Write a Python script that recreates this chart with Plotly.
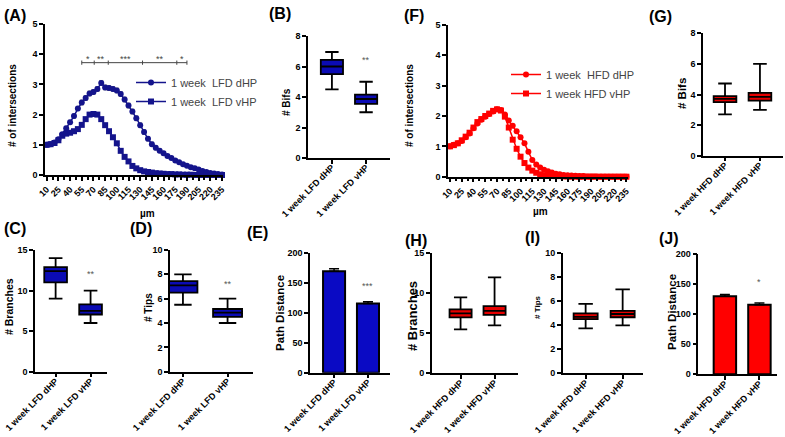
import plotly.graph_objects as go

W, H = 785, 437
FONT = "Liberation Sans, Arial, sans-serif"
NAVY = "#14148c"
BLUE = "#0b0bb4"
RED = "#ff0000"
BOXRED = "#e60000"

# ---- Sholl profiles (A, F) ----
radius_um = list(range(10, 240, 5))
lfd_dhp = [1.0, 1.02, 1.08, 1.18, 1.35, 1.55, 1.75, 1.95, 2.2, 2.4,
           2.55, 2.7, 2.75, 2.85, 3.05, 2.9, 2.88, 2.85, 2.8, 2.68,
           2.5, 2.3, 2.1, 1.88, 1.65, 1.42, 1.2, 1.02, 0.9, 0.8,
           0.72, 0.63, 0.56, 0.48, 0.42, 0.36, 0.31, 0.26, 0.22, 0.18,
           0.13, 0.1, 0.07, 0.05, 0.03, 0.02]
lfd_dhp_sem = [0.02, 0.02, 0.03, 0.04, 0.05, 0.06, 0.06, 0.07, 0.07, 0.08,
               0.08, 0.08, 0.08, 0.08, 0.08, 0.08, 0.08, 0.08, 0.08, 0.08,
               0.08, 0.08, 0.08, 0.08, 0.08, 0.08, 0.07, 0.07, 0.07, 0.06,
               0.06, 0.05, 0.05, 0.05, 0.04, 0.04, 0.03, 0.03, 0.03, 0.02,
               0.02, 0.02, 0.01, 0.01, 0.01, 0.01]
lfd_vhp = [1.0, 1.02, 1.06, 1.15, 1.3, 1.37, 1.4, 1.45, 1.52, 1.66,
           1.85, 2.0, 2.02, 2.0, 1.85, 1.65, 1.45, 1.25, 1.05, 0.8,
           0.6, 0.45, 0.3, 0.22, 0.16, 0.12, 0.1, 0.08, 0.06, 0.05,
           0.04, 0.03, 0.03, 0.02, 0.02, 0.01, 0.01, 0.01, 0.0, 0.0,
           0.0, 0.0, 0.0, 0.0, 0.0, 0.0]
hfd_dhp = [1.0, 1.05, 1.1, 1.18, 1.3, 1.42, 1.6, 1.75, 1.88, 1.98,
           2.07, 2.15, 2.22, 2.2, 2.05, 1.85, 1.68, 1.5, 1.3, 1.1,
           0.82, 0.55, 0.4, 0.3, 0.23, 0.18, 0.14, 0.1, 0.08, 0.06,
           0.05, 0.04, 0.03, 0.02, 0.02, 0.01, 0.01, 0.01, 0.0, 0.0,
           0.0, 0.0, 0.0, 0.0, 0.0, 0.0]
hfd_vhp = [1.0, 1.04, 1.1, 1.2, 1.32, 1.45, 1.62, 1.8, 1.9, 2.0,
           2.08, 2.17, 2.22, 2.18, 1.98, 1.62, 1.22, 0.92, 0.66, 0.45,
           0.3, 0.2, 0.13, 0.08, 0.05, 0.04, 0.03, 0.02, 0.02, 0.01,
           0.01, 0.0, 0.0, 0.0, 0.0, 0.0, 0.0, 0.0, 0.0, 0.0,
           0.0, 0.0, 0.0, 0.0, 0.0, 0.0]

# significance brackets in (A)
sig_edges = [55, 71, 89, 133, 177, 190]
sig_labels = ["*", "**", "***", "**", "*"]
sig_y = 3.72

# ---- box plots per group ----
lfd_groups = ["1 week LFD dHP", "1 week LFD vHP"]
hfd_groups = ["1 week HFD dHP", "1 week HFD vHP"]

bifs_lfd = {"lo": [4.5, 3.0], "q1": [5.5, 3.55], "med": [6.0, 3.87], "q3": [6.43, 4.15], "hi": [6.95, 5.0]}
branches_lfd = {"lo": [9.0, 6.0], "q1": [11.0, 7.05], "med": [12.4, 7.5], "q3": [12.9, 8.3], "hi": [14.0, 10.0]}
tips_lfd = {"lo": [5.5, 4.0], "q1": [6.5, 4.5], "med": [7.1, 4.85], "q3": [7.45, 5.15], "hi": [8.0, 6.0]}
bifs_hfd = {"lo": [2.7, 3.0], "q1": [3.5, 3.6], "med": [3.72, 3.85], "q3": [3.9, 4.1], "hi": [4.72, 6.0]}
branches_hfd = {"lo": [5.5, 6.0], "q1": [7.0, 7.3], "med": [7.5, 7.8], "q3": [8.0, 8.4], "hi": [9.5, 12.0]}
tips_hfd = {"lo": [3.75, 4.0], "q1": [4.52, 4.67], "med": [4.7, 4.94], "q3": [5.0, 5.2], "hi": [5.78, 7.0]}

# ---- path distance bars (mean, sem) ----
path_lfd = [170, 116]
path_lfd_sem = [4, 3]
path_hfd = [130, 116]
path_hfd_sem = [3, 3]

# asterisks over vHP: (axis suffix, text, y)
stars = [("2", "**", 6.4), ("5", "**", 12.0), ("6", "**", 7.2), ("7", "***", 145), ("10", "*", 154)]


def px(x):
    return x / W


def py(y):
    return 1 - y / H


fig = go.Figure()

# (A)
fig.add_trace(go.Scatter(x=radius_um, y=lfd_dhp, mode="lines+markers", name="1 week\u00a0 LFD dHP",
                         marker=dict(symbol="circle", size=6, color=NAVY), line=dict(color=NAVY, width=1.5),
                         error_y=dict(type="data", array=lfd_dhp_sem, color="#888888", thickness=1, width=2),
                         cliponaxis=False, legend="legend", xaxis="x", yaxis="y"))
fig.add_trace(go.Scatter(x=radius_um, y=lfd_vhp, mode="lines+markers", name="1 week\u00a0 LFD vHP",
                         marker=dict(symbol="square", size=6, color=NAVY), line=dict(color=NAVY, width=1.5),
                         cliponaxis=False, legend="legend", xaxis="x", yaxis="y"))
# (F)
fig.add_trace(go.Scatter(x=radius_um, y=hfd_dhp, mode="lines+markers", name="1 week\u00a0 HFD dHP",
                         marker=dict(symbol="circle", size=6, color=RED), line=dict(color=RED, width=1.5),
                         cliponaxis=False, legend="legend2", xaxis="x3", yaxis="y3"))
fig.add_trace(go.Scatter(x=radius_um, y=hfd_vhp, mode="lines+markers", name="1 week HFD vHP",
                         marker=dict(symbol="square", size=6, color=RED), line=dict(color=RED, width=1.5),
                         cliponaxis=False, legend="legend2", xaxis="x3", yaxis="y3"))


def add_box(groups, d, ax, fill):
    fig.add_trace(go.Box(x=groups, lowerfence=d["lo"], q1=d["q1"], median=d["med"], q3=d["q3"],
                         upperfence=d["hi"], fillcolor=fill, line=dict(color="#000000", width=1.8),
                         width=0.65, whiskerwidth=0.6, showlegend=False, hoverinfo="skip",
                         xaxis="x" + ax, yaxis="y" + ax))


def add_bar(groups, vals, sem, ax, fill):
    fig.add_trace(go.Bar(x=groups, y=vals, width=0.65, marker=dict(color=fill, line=dict(color="#000000", width=2)),
                         error_y=dict(type="data", array=sem, arrayminus=[0] * len(sem), symmetric=False,
                                      color="#000000", thickness=1.5, width=5),
                         showlegend=False, xaxis="x" + ax, yaxis="y" + ax))


add_box(lfd_groups, bifs_lfd, "2", BLUE)
add_box(hfd_groups, bifs_hfd, "4", BOXRED)
add_box(lfd_groups, branches_lfd, "5", BLUE)
add_box(lfd_groups, tips_lfd, "6", BLUE)
add_bar(lfd_groups, path_lfd, path_lfd_sem, "7", "#0a0ac4")
add_box(hfd_groups, branches_hfd, "8", BOXRED)
add_box(hfd_groups, tips_hfd, "9", BOXRED)
add_bar(hfd_groups, path_hfd, path_hfd_sem, "10", RED)

axis_style = dict(showline=True, linecolor="#000000", linewidth=1.5, ticks="outside", ticklen=4,
                  tickwidth=1.5, tickcolor="#000000", showgrid=False, zeroline=False, automargin=False,
                  tickfont=dict(family=FONT, size=9, color="#000000", weight="bold"))

# panel geometry (pixels): suffix -> (x span, y span, y range, y dtick, x range)
panels = {
    "": ((45, 223), (24, 175), [0, 5], 1, [7.8, 236.3]),
    "2": ((308, 390), (36, 158), [0, 8], 2, [-0.7, 1.7]),
    "3": ((448, 628), (25, 176.7), [0, 5], 1, [7.5, 237]),
    "4": ((703, 783), (33.3, 155.7), [0, 8], 2, [-0.63, 1.66]),
    "5": ((35, 107), (250, 371.7), [0, 15], 5, [-0.59, 1.47]),
    "6": ((170, 253), (250, 371.7), [0, 10], 2, [-0.29, 1.57]),
    "7": ((310, 390), (253.3, 372.7), [0, 200], 50, [-0.71, 1.65]),
    "8": ((431.7, 518), (253.3, 373.3), [0, 15], 5, [-0.85, 1.69]),
    "9": ((562.7, 643), (253.3, 373.3), [0, 10], 2, [-0.62, 1.55]),
    "10": ((698.3, 776.7), (254.3, 374.3), [0, 200], 50, [-0.77, 1.5]),
}

layout_axes = {}
for s, (xp, yp, yr, ydt, xr) in panels.items():
    xa = dict(axis_style, domain=[px(xp[0]), px(xp[1])], range=xr, anchor="y" + s, tickangle=-45)
    if s in ("", "3"):
        xa.update(tick0=10, dtick=15, tickmode="linear",
                  minor=dict(ticks="outside", ticklen=3, tickcolor="#000000", tick0=10, dtick=7.5))
    else:
        xa.update(type="category", ticklabelstandoff=-5)
    ya = dict(axis_style, domain=[py(yp[1]), py(yp[0])], range=yr, dtick=ydt, anchor="x" + s)
    layout_axes["xaxis" + s] = xa
    layout_axes["yaxis" + s] = ya

fig.update_layout(**layout_axes)

ann = []
# panel letters
for txt, x, y in [("(A)", 2, 16), ("(B)", 267, 13), ("(F)", 402, 15), ("(G)", 647, 17),
                  ("(C)", 2, 228), ("(D)", 128, 228), ("(E)", 245, 233), ("(H)", 403, 240),
                  ("(I)", 523, 237), ("(J)", 657, 238)]:
    ann.append(dict(text=txt, x=px(x), y=py(y), xref="paper", yref="paper", xanchor="left",
                    yanchor="middle", showarrow=False, font=dict(family=FONT, size=16, color="#000000", weight="bold")))
# y titles (centre points)
for txt, x, y, size in [("# of intersections", 12, 106, 10), ("# Bifs", 286, 102, 10),
                        ("# of intersections", 409, 106, 10), ("# Bifs", 682, 94, 11.5),
                        ("# Branches", 9, 307, 10.5), ("# Tips", 148, 308, 10),
                        ("Path Distance", 280, 313, 11.5), ("# Branches", 412, 316, 13),
                        ("# Tips", 537, 307, 8), ("Path Distance", 672, 312, 11.5)]:
    ann.append(dict(text=txt, x=px(x), y=py(y), xref="paper", yref="paper", textangle=-90,
                    xanchor="center", yanchor="middle",
                    showarrow=False, font=dict(family=FONT, size=size, color="#000000", weight="bold")))
# µm titles
for x, y in [(147, 213), (540, 211)]:
    ann.append(dict(text="µm", x=px(x), y=py(y), xref="paper", yref="paper", showarrow=False,
                    xanchor="center", yanchor="middle",
                    font=dict(family=FONT, size=10, color="#000000", weight="bold")))
# asterisks
for s, txt, y in stars:
    grp = lfd_groups[1] if s in ("2", "5", "6", "7") else hfd_groups[1]
    ann.append(dict(text=txt, x=grp, y=y, xref="x" + s, yref="y" + s, showarrow=False,
                    xanchor="center", yanchor="middle",
                    font=dict(family=FONT, size=9, color="#555555")))

# significance brackets in (A)
shapes = []
for i, lab in enumerate(sig_labels):
    x0, x1 = sig_edges[i], sig_edges[i + 1]
    shapes.append(dict(type="line", xref="x", yref="y", x0=x0, x1=x1, y0=sig_y, y1=sig_y,
                       line=dict(color="#444444", width=1)))
    ann.append(dict(text=lab, x=(x0 + x1) / 2, y=sig_y, xref="x", yref="y", xanchor="center", yanchor="bottom",
                    showarrow=False, yshift=-3, font=dict(family=FONT, size=9, color="#444444")))
for e in sig_edges:
    shapes.append(dict(type="line", xref="x", yref="y", x0=e, x1=e, y0=sig_y - 0.07, y1=sig_y + 0.07,
                       line=dict(color="#444444", width=1)))

fig.update_layout(
    width=W, height=H, margin=dict(l=0, r=0, t=0, b=0, autoexpand=False),
    paper_bgcolor="white", plot_bgcolor="white",
    annotations=ann, shapes=shapes,
    legend=dict(x=px(131), y=py(68), xanchor="left", yanchor="top", bgcolor="rgba(0,0,0,0)",
                font=dict(family=FONT, size=11, color="#444444"), tracegroupgap=0),
    legend2=dict(x=px(506), y=py(60), xanchor="left", yanchor="top", bgcolor="rgba(0,0,0,0)",
                 font=dict(family=FONT, size=11, color="#444444"), tracegroupgap=0),
    bargap=0.3,
)

# drop the page's default body margin so the figure sits at the window's corner
fig.write_html("out.html", config={"displayModeBar": False},
               post_script="document.body.style.margin = '0';")
